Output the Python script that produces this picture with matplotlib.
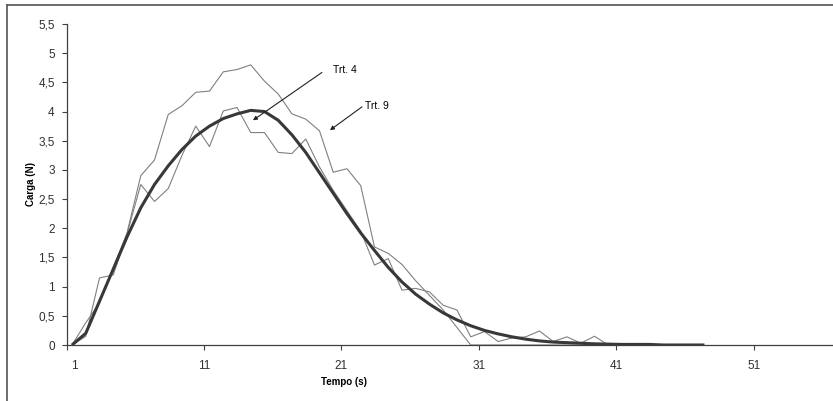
import numpy as np
import matplotlib
matplotlib.use("Agg")
import matplotlib.pyplot as plt
import matplotlib.transforms as mtransforms
from matplotlib.lines import Line2D
from matplotlib.ticker import FuncFormatter

# tempo de cada amostra (s)
tempo = [1.4, 2.4, 3.4, 4.4, 5.4, 6.4, 7.4, 8.4, 9.4, 10.4,
         11.4, 12.4, 13.4, 14.4, 15.4, 16.4, 17.4, 18.4, 19.4, 20.4,
         21.4, 22.4, 23.4, 24.4, 25.4, 26.4, 27.4, 28.4, 29.4, 30.4,
         31.4, 32.4, 33.4, 34.4, 35.4, 36.4, 37.4, 38.4, 39.4, 40.4,
         41.4, 42.4, 43.4, 44.4, 45.4, 46.4, 47.4]

# carga (N) - tratamento 9 (curva mais alta)
trt9 = [0.0, 0.38, 0.72, 1.32, 1.92, 2.9, 3.17, 3.95, 4.1, 4.33,
        4.35, 4.68, 4.72, 4.8, 4.52, 4.3, 3.96, 3.87, 3.67, 2.96,
        3.02, 2.73, 1.68, 1.57, 1.38, 1.1, 0.85, 0.6, 0.3, 0.0,
        0.0, 0.0, 0.0, 0.0, 0.0, 0.0, 0.0, 0.0, 0.0, 0.0]

# carga (N) - tratamento 4
trt4 = [0.0, 0.15, 1.15, 1.2, 1.9, 2.75, 2.46, 2.68, 3.25, 3.75,
        3.4, 4.01, 4.07, 3.64, 3.64, 3.3, 3.28, 3.53, 3.05, 2.65,
        2.3, 1.95, 1.37, 1.48, 0.94, 0.97, 0.91, 0.68, 0.6, 0.14,
        0.23, 0.06, 0.12, 0.14, 0.24, 0.06, 0.14, 0.03, 0.15, 0.0]

# curva ajustada
ajuste = [0.0, 0.2, 0.75, 1.3, 1.85, 2.35, 2.75, 3.07, 3.35, 3.58,
          3.75, 3.88, 3.96, 4.02, 4.0, 3.85, 3.6, 3.3, 2.95, 2.6,
          2.25, 1.92, 1.62, 1.33, 1.08, 0.87, 0.7, 0.55, 0.43, 0.33,
          0.25, 0.19, 0.14, 0.1, 0.07, 0.05, 0.04, 0.03, 0.02, 0.015,
          0.01, 0.01, 0.01, 0.0, 0.0, 0.0, 0.0]

x_ticks = [1, 11, 21, 31, 41, 51]
y_ticks = [0, 0.5, 1, 1.5, 2, 2.5, 3, 3.5, 4, 4.5, 5, 5.5]

FONT = "Liberation Sans"
AXC = "#404040"

fig = plt.figure(figsize=(8.33, 4.01), dpi=100)
ax = fig.add_axes([66.5 / 833, 56 / 401, (833 - 66.5) / 833, 321 / 401])

ax.plot(tempo[:len(trt9)], trt9, color="#808080", lw=0.8)
ax.plot(tempo[:len(trt4)], trt4, color="#808080", lw=0.8)
ax.plot(tempo, ajuste, color="#383838", lw=2.2, solid_capstyle="butt")

ax.set_xlim(1, 56.75)
ax.set_ylim(0, 5.5)
ax.set_xticks(x_ticks)
ax.set_yticks(y_ticks)
ax.yaxis.set_major_formatter(FuncFormatter(lambda v, p: f"{v:g}".replace(".", ",")))

for s in ["top", "right"]:
    ax.spines[s].set_visible(False)
for s in ["left", "bottom"]:
    ax.spines[s].set_color(AXC)
    ax.spines[s].set_linewidth(0.9)
ax.tick_params(direction="out", length=3.5, width=0.8, color=AXC,
               labelsize=8.5, labelcolor="#303030")
ax.tick_params(axis="y", pad=5)
ax.tick_params(axis="x", pad=7)
for lab in ax.get_xticklabels() + ax.get_yticklabels():
    lab.set_family(FONT)
# o rotulo "1" fica um pouco a direita do eixo, como no original
first = ax.get_xticklabels()[0]
first.set_transform(first.get_transform() +
                    mtransforms.ScaledTranslation(8 / 100, 0, fig.dpi_scale_trans))

ax.set_ylabel("Carga (N)", fontsize=7, fontweight="bold", family=FONT)
ax.yaxis.set_label_coords(-(66.5 - 36) / 766.5, 0.5)
ax.set_xlabel("Tempo (s)", fontsize=7, fontweight="bold", family=FONT)
ax.xaxis.set_label_coords((344 - 66.5) / 766.5, -0.1)

# anotacoes
ax.annotate("", xy=(14.56, 3.85), xytext=(19.58, 4.67),
            arrowprops=dict(arrowstyle="-|>", color="#222222", lw=0.8,
                            mutation_scale=6, shrinkA=0, shrinkB=0))
ax.text(20.4, 4.71, "Trt. 4", fontsize=7.5, family=FONT, va="center", ha="left")
ax.annotate("", xy=(20.16, 3.68), xytext=(22.49, 4.08),
            arrowprops=dict(arrowstyle="-|>", color="#222222", lw=0.8,
                            mutation_scale=6, shrinkA=0, shrinkB=0))
ax.text(22.7, 4.1, "Trt. 9", fontsize=7.5, family=FONT, va="center", ha="left")

# moldura do grafico (esquerda e topo)
fig.add_artist(Line2D([7 / 833, 7 / 833], [0, 1 - 5 / 401], transform=fig.transFigure,
                      color="#555555", lw=1.2))
fig.add_artist(Line2D([7 / 833, 1], [1 - 5 / 401, 1 - 5 / 401], transform=fig.transFigure,
                      color="#555555", lw=1.2))

fig.savefig("out.png", dpi=100)
